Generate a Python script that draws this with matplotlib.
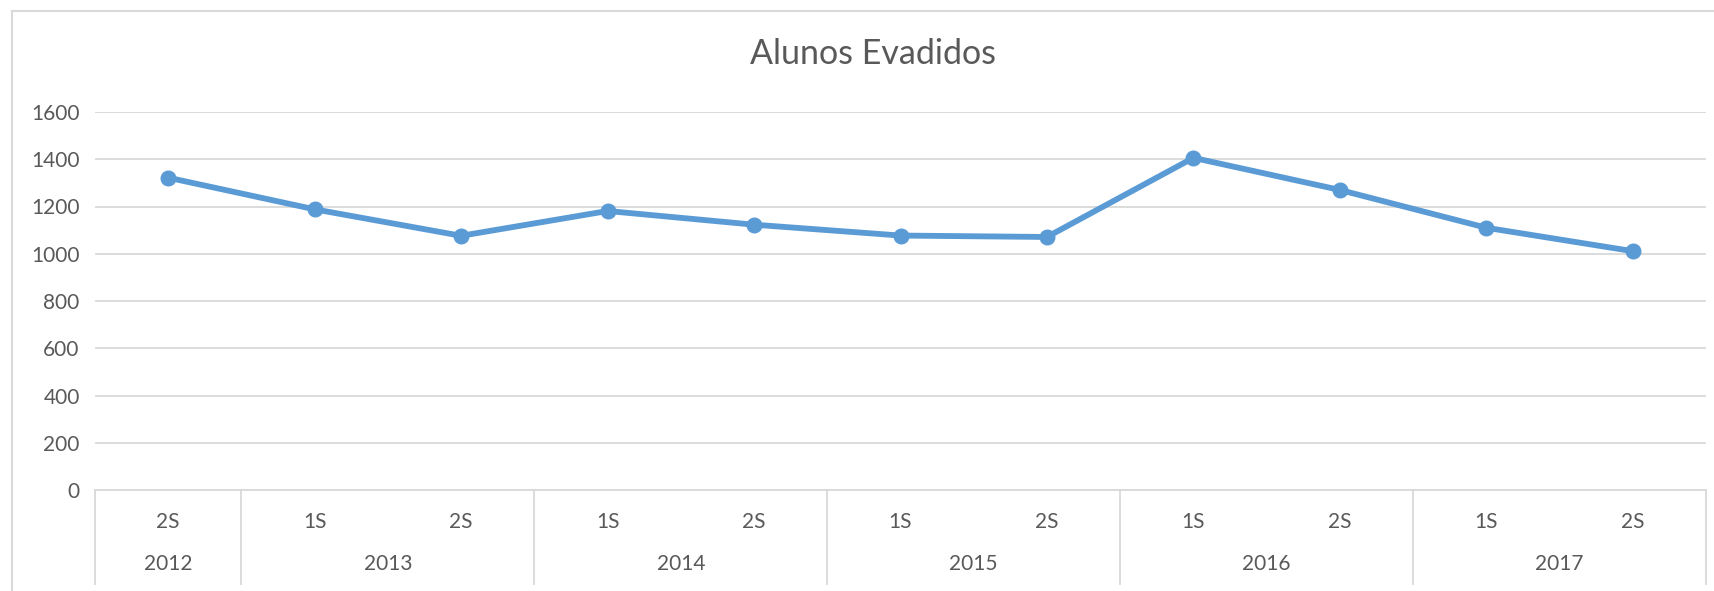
import matplotlib.pyplot as plt
from matplotlib.lines import Line2D
import matplotlib.transforms as mtransforms
import numpy as np

# dados
semestres = ["2S", "1S", "2S", "1S", "2S", "1S", "2S", "1S", "2S", "1S", "2S"]
anos = ["2012", "2013", "2014", "2015", "2016", "2017"]
semestres_por_ano = [1, 2, 2, 2, 2, 2]
evadidos = [1322, 1188, 1076, 1181, 1123, 1077, 1071, 1406, 1270, 1110, 1011]

W, H = 1714, 591
cor_linha = "#5B9BD5"
cor_texto = "#595959"
cor_grade = "#D9D9D9"

plt.rcParams["font.family"] = ["Lato", "DejaVu Sans"]

fig = plt.figure(figsize=(W / 100, H / 100), dpi=100)
fig.patch.set_facecolor("white")

# área do gráfico (em pixels da imagem)
x0, x1 = 95, 1706
y_top, y_zero = 112, 490
ax = fig.add_axes([x0 / W, (H - y_zero) / H, (x1 - x0) / W, (y_zero - y_top) / H])

x = np.arange(len(evadidos))
ax.plot(x, evadidos, color=cor_linha, lw=4.2, marker="o", ms=10.5,
        solid_capstyle="round", solid_joinstyle="round", zorder=3)

ax.set_xlim(-0.5, len(evadidos) - 0.5)
ax.set_ylim(0, 1600)
ax.set_yticks(np.arange(0, 1601, 200))
ax.tick_params(axis="y", length=0, pad=11, labelsize=15, labelcolor=cor_texto)
ax.set_xticks([])
ax.grid(axis="y", color=cor_grade, lw=1.3)
ax.set_axisbelow(True)
for s in ["top", "right", "left"]:
    ax.spines[s].set_visible(False)
ax.spines["bottom"].set_color(cor_grade)
ax.spines["bottom"].set_linewidth(1.3)

# eixo de categorias em dois níveis
trans = mtransforms.blended_transform_factory(ax.transData, ax.transAxes)
h_ax = y_zero - y_top
y_sem = -(521.7 - y_zero) / h_ax
y_ano = -(564.5 - y_zero) / h_ax
y_fim = -(584 - y_zero) / h_ax

for i, s in enumerate(semestres):
    ax.text(i, y_sem, s, transform=trans, ha="center", va="center",
            fontsize=15, color=cor_texto)

inicio = -0.5
ax.plot([inicio, inicio], [0, y_fim], transform=trans, color=cor_grade,
        lw=1.3, clip_on=False)
for ano, n in zip(anos, semestres_por_ano):
    fim = inicio + n
    ax.text((inicio + fim) / 2, y_ano, ano, transform=trans, ha="center",
            va="center", fontsize=15, color=cor_texto)
    ax.plot([fim, fim], [0, y_fim], transform=trans, color=cor_grade,
            lw=1.3, clip_on=False)
    inicio = fim

# título
fig.text(873 / W, 1 - 54 / H, "Alunos Evadidos", ha="center", va="center",
         fontsize=24.5, color=cor_texto)

# borda do gráfico (cortada à direita e embaixo)
bx, by = 11.5 / W, 1 - 10.7 / H
fig.add_artist(Line2D([bx, bx], [0, by], color=cor_grade, lw=1.5))
fig.add_artist(Line2D([bx, 1], [by, by], color=cor_grade, lw=1.5))

fig.savefig("out.png", dpi=100, facecolor="white")
